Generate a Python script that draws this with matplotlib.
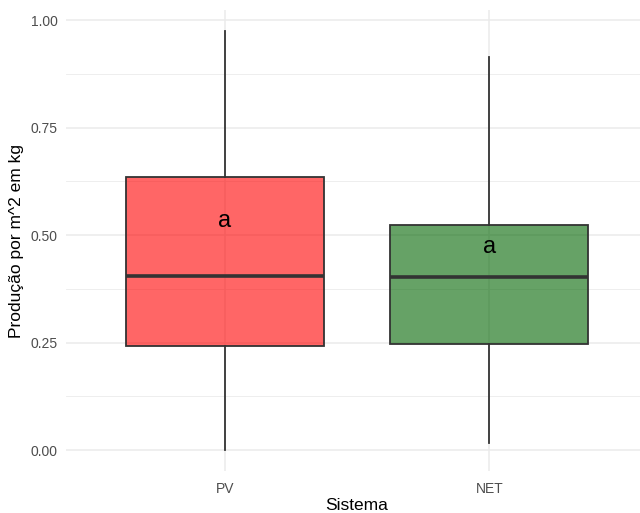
import matplotlib
matplotlib.use("Agg")
import matplotlib.pyplot as plt

plt.rcParams['font.family'] = ['Liberation Sans', 'DejaVu Sans']

categories = ["PV", "NET"]
whislo = [0.000, 0.017]
q1 = [0.241, 0.247]
med = [0.405, 0.402]
q3 = [0.634, 0.523]
whishi = [0.975, 0.915]
letters = ["a", "a"]
letter_y = [0.533, 0.473]
fill_colors = ["red", "darkgreen"]
yticks = [0.00, 0.25, 0.50, 0.75, 1.00]
ytick_labels = ["0.00", "0.25", "0.50", "0.75", "1.00"]
yminor = [0.125, 0.375, 0.625, 0.875]

fig = plt.figure(figsize=(6.4, 5.13), dpi=100)
ax = fig.add_axes([66/640, (513-471)/513, 582/640, 461/513])

ax.set_xlim(0.4, 2.6)
ax.set_ylim(-0.0488, 1.0233)

# grid
grid_c = "#EBEBEB"
for y in yticks:
    ax.axhline(y, color=grid_c, lw=1.1, zorder=0)
for y in yminor:
    ax.axhline(y, color=grid_c, lw=0.6, zorder=0)
for x in [1, 2]:
    ax.axvline(x, color=grid_c, lw=1.1, zorder=0)

stats = []
for i, c in enumerate(categories):
    stats.append(dict(label=c, whislo=whislo[i], q1=q1[i], med=med[i],
                      q3=q3[i], whishi=whishi[i], fliers=[]))

bp = ax.bxp(stats, positions=[1, 2], widths=0.75, patch_artist=True,
            showcaps=False, showfliers=False,
            boxprops=dict(edgecolor="#333333", linewidth=1.3),
            whiskerprops=dict(color="#333333", linewidth=1.3),
            medianprops=dict(color="#333333", linewidth=2.6,
                             solid_capstyle="butt"),
            zorder=2)
for patch, fc in zip(bp["boxes"], fill_colors):
    patch.set_facecolor(matplotlib.colors.to_rgba(fc, 0.6))
    patch.set_edgecolor(matplotlib.colors.to_rgba("#333333", 1.0))

for i, (lt, ly) in enumerate(zip(letters, letter_y)):
    ax.text(i + 1, ly, lt, ha="center", va="center", fontsize=17,
            color="black", zorder=3)

ax.set_yticks(yticks)
ax.set_yticklabels(ytick_labels)
ax.set_xticks([1, 2])
ax.set_xticklabels(categories)
ax.tick_params(axis="both", length=0, labelsize=10, labelcolor="#4D4D4D")
ax.tick_params(axis="x", pad=8)
ax.tick_params(axis="y", pad=6)
for s in ax.spines.values():
    s.set_visible(False)

ax.set_xlabel("Sistema", fontsize=12.5, color="black", va="center")
ax.xaxis.set_label_coords(0.5, (471 - 505) / 461)
ax.set_ylabel("Produção por m^2 em kg", fontsize=12.5, color="black",
              va="center")
ax.yaxis.set_label_coords((17 - 66) / 582, 0.5 + (471 - 10) / 461 * 0 - (240.5 - (471 + 10) / 2) / 461)

fig.savefig("out.png", dpi=100)
